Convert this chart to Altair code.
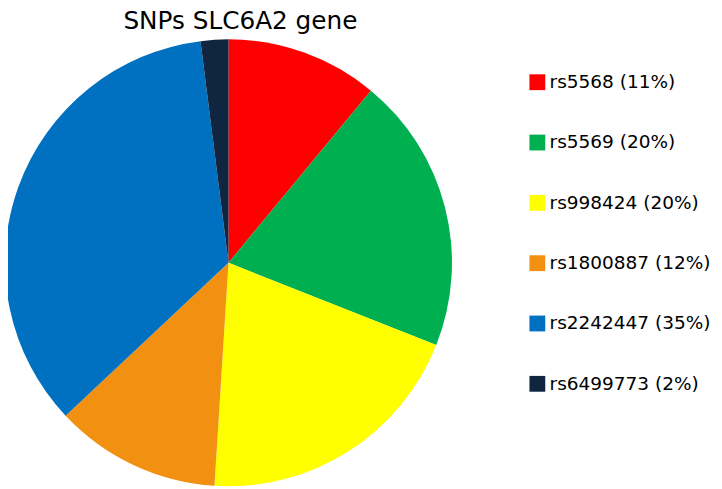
import altair as alt
import pandas as pd

snps = ["rs5568", "rs5569", "rs998424", "rs1800887", "rs2242447", "rs6499773"]
shares = [11, 20, 20, 12, 35, 2]
labels = ["rs5568 (11%)", "rs5569 (20%)", "rs998424 (20%)", "rs1800887 (12%)", "rs2242447 (35%)", "rs6499773 (2%)"]
colors = ["#FF0000", "#00B050", "#FFFF00", "#F29111", "#0070C0", "#10253F"]
title_text = "SNPs SLC6A2 gene"

df = pd.DataFrame({"snp": snps, "share": shares, "label": labels, "order": list(range(len(snps)))})

pie = alt.Chart(df).mark_arc(radius=226).encode(
    theta=alt.Theta("share:Q", stack=True),
    order=alt.Order("order:Q"),
    color=alt.Color(
        "label:N",
        sort=labels,
        scale=alt.Scale(domain=labels, range=colors),
        legend=alt.Legend(
            title=None,
            orient="none",
            legendX=526,
            legendY=63,
            symbolType="square",
            symbolSize=256,
            symbolStrokeWidth=0,
            labelFontSize=18.7,
            labelFont="DejaVu Sans",
            labelColor="#000000",
            labelOffset=3,
            rowPadding=41,
            labelLimit=300,
        ),
    ),
    x=alt.value(223),
    y=alt.value(255),
)

title = alt.Chart(pd.DataFrame({"t": [title_text]})).mark_text(
    font="DejaVu Sans", fontSize=25, color="#000000", align="center", baseline="alphabetic"
).encode(text="t:N", x=alt.value(235), y=alt.value(19))

chart = alt.layer(pie, title).properties(
    width=714, height=481, autosize=alt.AutoSizeParams(type="none"), padding=0
).configure_view(stroke=None)

chart.save("out.html", embed_options={"renderer": "svg", "actions": False})
